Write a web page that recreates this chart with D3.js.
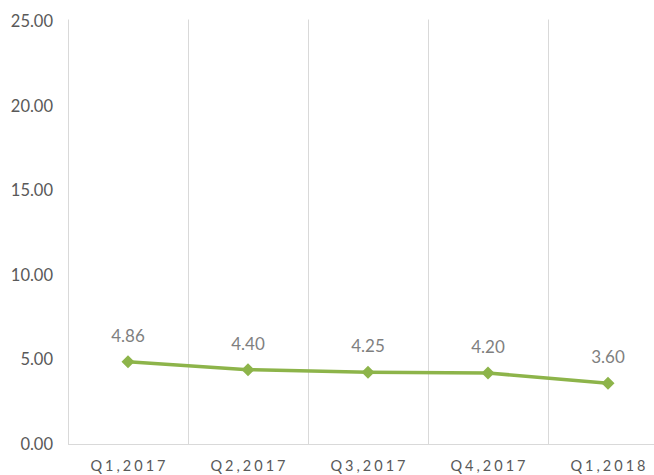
<!DOCTYPE html>
<meta charset="utf-8">
<style>
  body { margin: 0; background: #fff; }
  text { font-family: Lato, "Open Sans", sans-serif; }
</style>
<svg id="chart" width="654" height="475"></svg>
<script src="https://d3js.org/d3.v7.min.js"></script>
<script>
// chart data
var quarters = ["Q1,2017", "Q2,2017", "Q3,2017", "Q4,2017", "Q1,2018"];
var values = [4.86, 4.40, 4.25, 4.20, 3.60];
var yTicks = [0, 5, 10, 15, 20, 25];

var svg = d3.select("#chart");
var plotLeft = 68, plotRight = 668, plotTop = 21.5, plotBottom = 444;

var x = d3.scaleBand().domain(quarters).range([plotLeft, plotRight]);
var y = d3.scaleLinear().domain([0, 25]).range([plotBottom, plotTop]);

// vertical gridlines at category boundaries
var bounds = quarters.map(function(q) { return x(q); });
svg.append("g").selectAll("line")
  .data(bounds)
  .enter().append("line")
    .attr("x1", function(d) { return d + 0.5; })
    .attr("x2", function(d) { return d + 0.5; })
    .attr("y1", y(25) - 2)
    .attr("y2", plotBottom)
    .attr("stroke", "#d9d9d9")
    .attr("stroke-width", 1);

// bottom axis line
svg.append("line")
  .attr("x1", plotLeft).attr("x2", 654)
  .attr("y1", plotBottom + 0.5).attr("y2", plotBottom + 0.5)
  .attr("stroke", "#d9d9d9");

// y tick labels
svg.append("g").selectAll("text")
  .data(yTicks)
  .enter().append("text")
    .attr("x", 53)
    .attr("y", function(d) { return y(d); })
    .attr("dy", "0.35em")
    .attr("text-anchor", "end")
    .attr("font-size", 16.5)
    .attr("fill", "#595959")
    .text(function(d) { return d3.format(".2f")(d); });

// x labels
svg.append("g").selectAll("text")
  .data(quarters)
  .enter().append("text")
    .attr("x", function(d) { return x(d) + x.bandwidth() / 2 + 1.5; })
    .attr("y", 471)
    .attr("text-anchor", "middle")
    .attr("font-size", 14.5)
    .attr("letter-spacing", "3px")
    .attr("fill", "#595959")
    .text(function(d) { return d; });

var pts = quarters.map(function(q, i) { return { q: q, v: values[i] }; });
var cx = function(d) { return x(d.q) + x.bandwidth() / 2; };

// line
svg.append("path")
  .datum(pts)
  .attr("fill", "none")
  .attr("stroke", "#8db44a")
  .attr("stroke-width", 3.5)
  .attr("stroke-linejoin", "round")
  .attr("d", d3.line().x(cx).y(function(d) { return y(d.v); }));

// diamond markers
svg.append("g").selectAll("path")
  .data(pts)
  .enter().append("path")
    .attr("transform", function(d) { return "translate(" + cx(d) + "," + y(d.v) + ")"; })
    .attr("d", "M0,-6.5L6.5,0L0,6.5L-6.5,0Z")
    .attr("fill", "#8db44a");

// data labels
svg.append("g").selectAll("text")
  .data(pts)
  .enter().append("text")
    .attr("x", cx)
    .attr("y", function(d) { return y(d.v) - 20; })
    .attr("text-anchor", "middle")
    .attr("font-size", 17)
    .attr("fill", "#7f7f7f")
    .text(function(d) { return d3.format(".2f")(d.v); });
</script>
